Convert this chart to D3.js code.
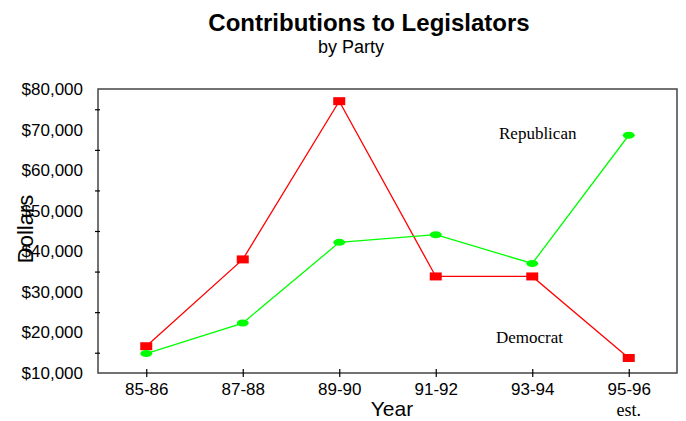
<!DOCTYPE html>
<html>
<head>
<meta charset="utf-8">
<script src="https://d3js.org/d3.v7.min.js"></script>
<style>
  html, body { margin: 0; padding: 0; background: #ffffff; }
  svg { display: block; }
</style>
</head>
<body>
<div id="chart"></div>
<script>
// ---- Data ----
const years = ["85-86", "87-88", "89-90", "91-92", "93-94", "95-96"];
const democrat = [16600, 38000, 77000, 33800, 33800, 13700];
const republican = [14800, 22300, 42200, 44100, 37000, 68600];
const yTickLabels = [10000, 20000, 30000, 40000, 50000, 60000, 70000, 80000];
const yTickMarks = [15000, 25000, 35000, 45000, 55000, 65000, 75000];

const W = 686, H = 421;
const plot = { left: 98, right: 677, top: 89, bottom: 373 };

const svg = d3.select("#chart").append("svg")
  .attr("width", W).attr("height", H);

const x = d3.scalePoint().domain(years).range([plot.left, plot.right]).padding(0.5);
const y = d3.scaleLinear().domain([10000, 80000]).range([plot.bottom, plot.top]);

const axisColor = "#444";

// Frame (top & right)
svg.append("rect")
  .attr("x", plot.left).attr("y", plot.top)
  .attr("width", plot.right - plot.left).attr("height", plot.bottom - plot.top)
  .attr("fill", "none").attr("stroke", axisColor).attr("stroke-width", 1.5);

// Y axis: labels at round values, tick marks between them
const fmt = d => "$" + d3.format(",")(d);
const yAxisLabels = d3.axisLeft(y).tickValues(yTickLabels).tickFormat(fmt).tickSize(0).tickPadding(15);
const gyl = svg.append("g").attr("transform", `translate(${plot.left},0)`).call(yAxisLabels);
gyl.select(".domain").remove();
gyl.selectAll("text").attr("font-family", "Liberation Sans, Arial, sans-serif").attr("font-size", 17).attr("fill", "#000");

const yAxisMarks = d3.axisLeft(y).tickValues(yTickMarks).tickFormat("").tickSizeInner(3).tickSizeOuter(0);
const gym = svg.append("g").attr("transform", `translate(${plot.left},0)`).call(yAxisMarks);
gym.select(".domain").remove();
gym.selectAll("line").attr("x2", 2).attr("x1", -3).attr("stroke", "#000").attr("stroke-width", 1.2);

// X axis
const xAxis = d3.axisBottom(x).tickSizeInner(4).tickSizeOuter(0).tickPadding(6);
const gx = svg.append("g").attr("transform", `translate(0,${plot.bottom})`).call(xAxis);
gx.select(".domain").remove();
gx.selectAll("line").attr("y1", -4).attr("y2", 4).attr("stroke", "#000").attr("stroke-width", 1.2);
gx.selectAll("text").attr("font-family", "Liberation Sans, Arial, sans-serif").attr("font-size", 17).attr("fill", "#000");

// Lines
const line = d3.line().x((d, i) => x(years[i])).y(d => y(d));

svg.append("path").datum(democrat).attr("d", line)
  .attr("fill", "none").attr("stroke", "#ff0000").attr("stroke-width", 1.3);
svg.append("path").datum(republican).attr("d", line)
  .attr("fill", "none").attr("stroke", "#00ff00").attr("stroke-width", 1.3);

// Markers
svg.selectAll("rect.dem").data(democrat).enter().append("rect")
  .attr("class", "dem")
  .attr("x", (d, i) => x(years[i]) - 6).attr("y", d => y(d) - 4)
  .attr("width", 12).attr("height", 8).attr("fill", "#ff0000");

svg.selectAll("ellipse.rep").data(republican).enter().append("ellipse")
  .attr("class", "rep")
  .attr("cx", (d, i) => x(years[i])).attr("cy", d => y(d))
  .attr("rx", 6).attr("ry", 3.5).attr("fill", "#00ff00");

// Titles
svg.append("text").attr("x", 369).attr("y", 31).attr("text-anchor", "middle")
  .attr("font-family", "Liberation Sans, Arial, sans-serif").attr("font-weight", "bold")
  .attr("font-size", 24).text("Contributions to Legislators");
svg.append("text").attr("x", 351).attr("y", 53).attr("text-anchor", "middle")
  .attr("font-family", "Liberation Sans, Arial, sans-serif")
  .attr("font-size", 18).text("by Party");

// Axis titles
svg.append("text").attr("transform", "translate(33,229) rotate(-90)")
  .attr("text-anchor", "middle")
  .attr("font-family", "Liberation Sans, Arial, sans-serif")
  .attr("font-size", 22).text("Dollars");
svg.append("text").attr("x", 392).attr("y", 416).attr("text-anchor", "middle")
  .attr("font-family", "Liberation Sans, Arial, sans-serif")
  .attr("font-size", 21).text("Year");

// Annotations
svg.append("text").attr("x", x("95-96")).attr("y", 416).attr("text-anchor", "middle")
  .attr("font-family", "Liberation Serif, Times New Roman, serif")
  .attr("font-size", 18).text("est.");
svg.append("text").attr("x", 499).attr("y", 139)
  .attr("font-family", "Liberation Serif, Times New Roman, serif")
  .attr("font-size", 17).text("Republican");
svg.append("text").attr("x", 496).attr("y", 343)
  .attr("font-family", "Liberation Serif, Times New Roman, serif")
  .attr("font-size", 17).text("Democrat");
</script>
</body>
</html>
